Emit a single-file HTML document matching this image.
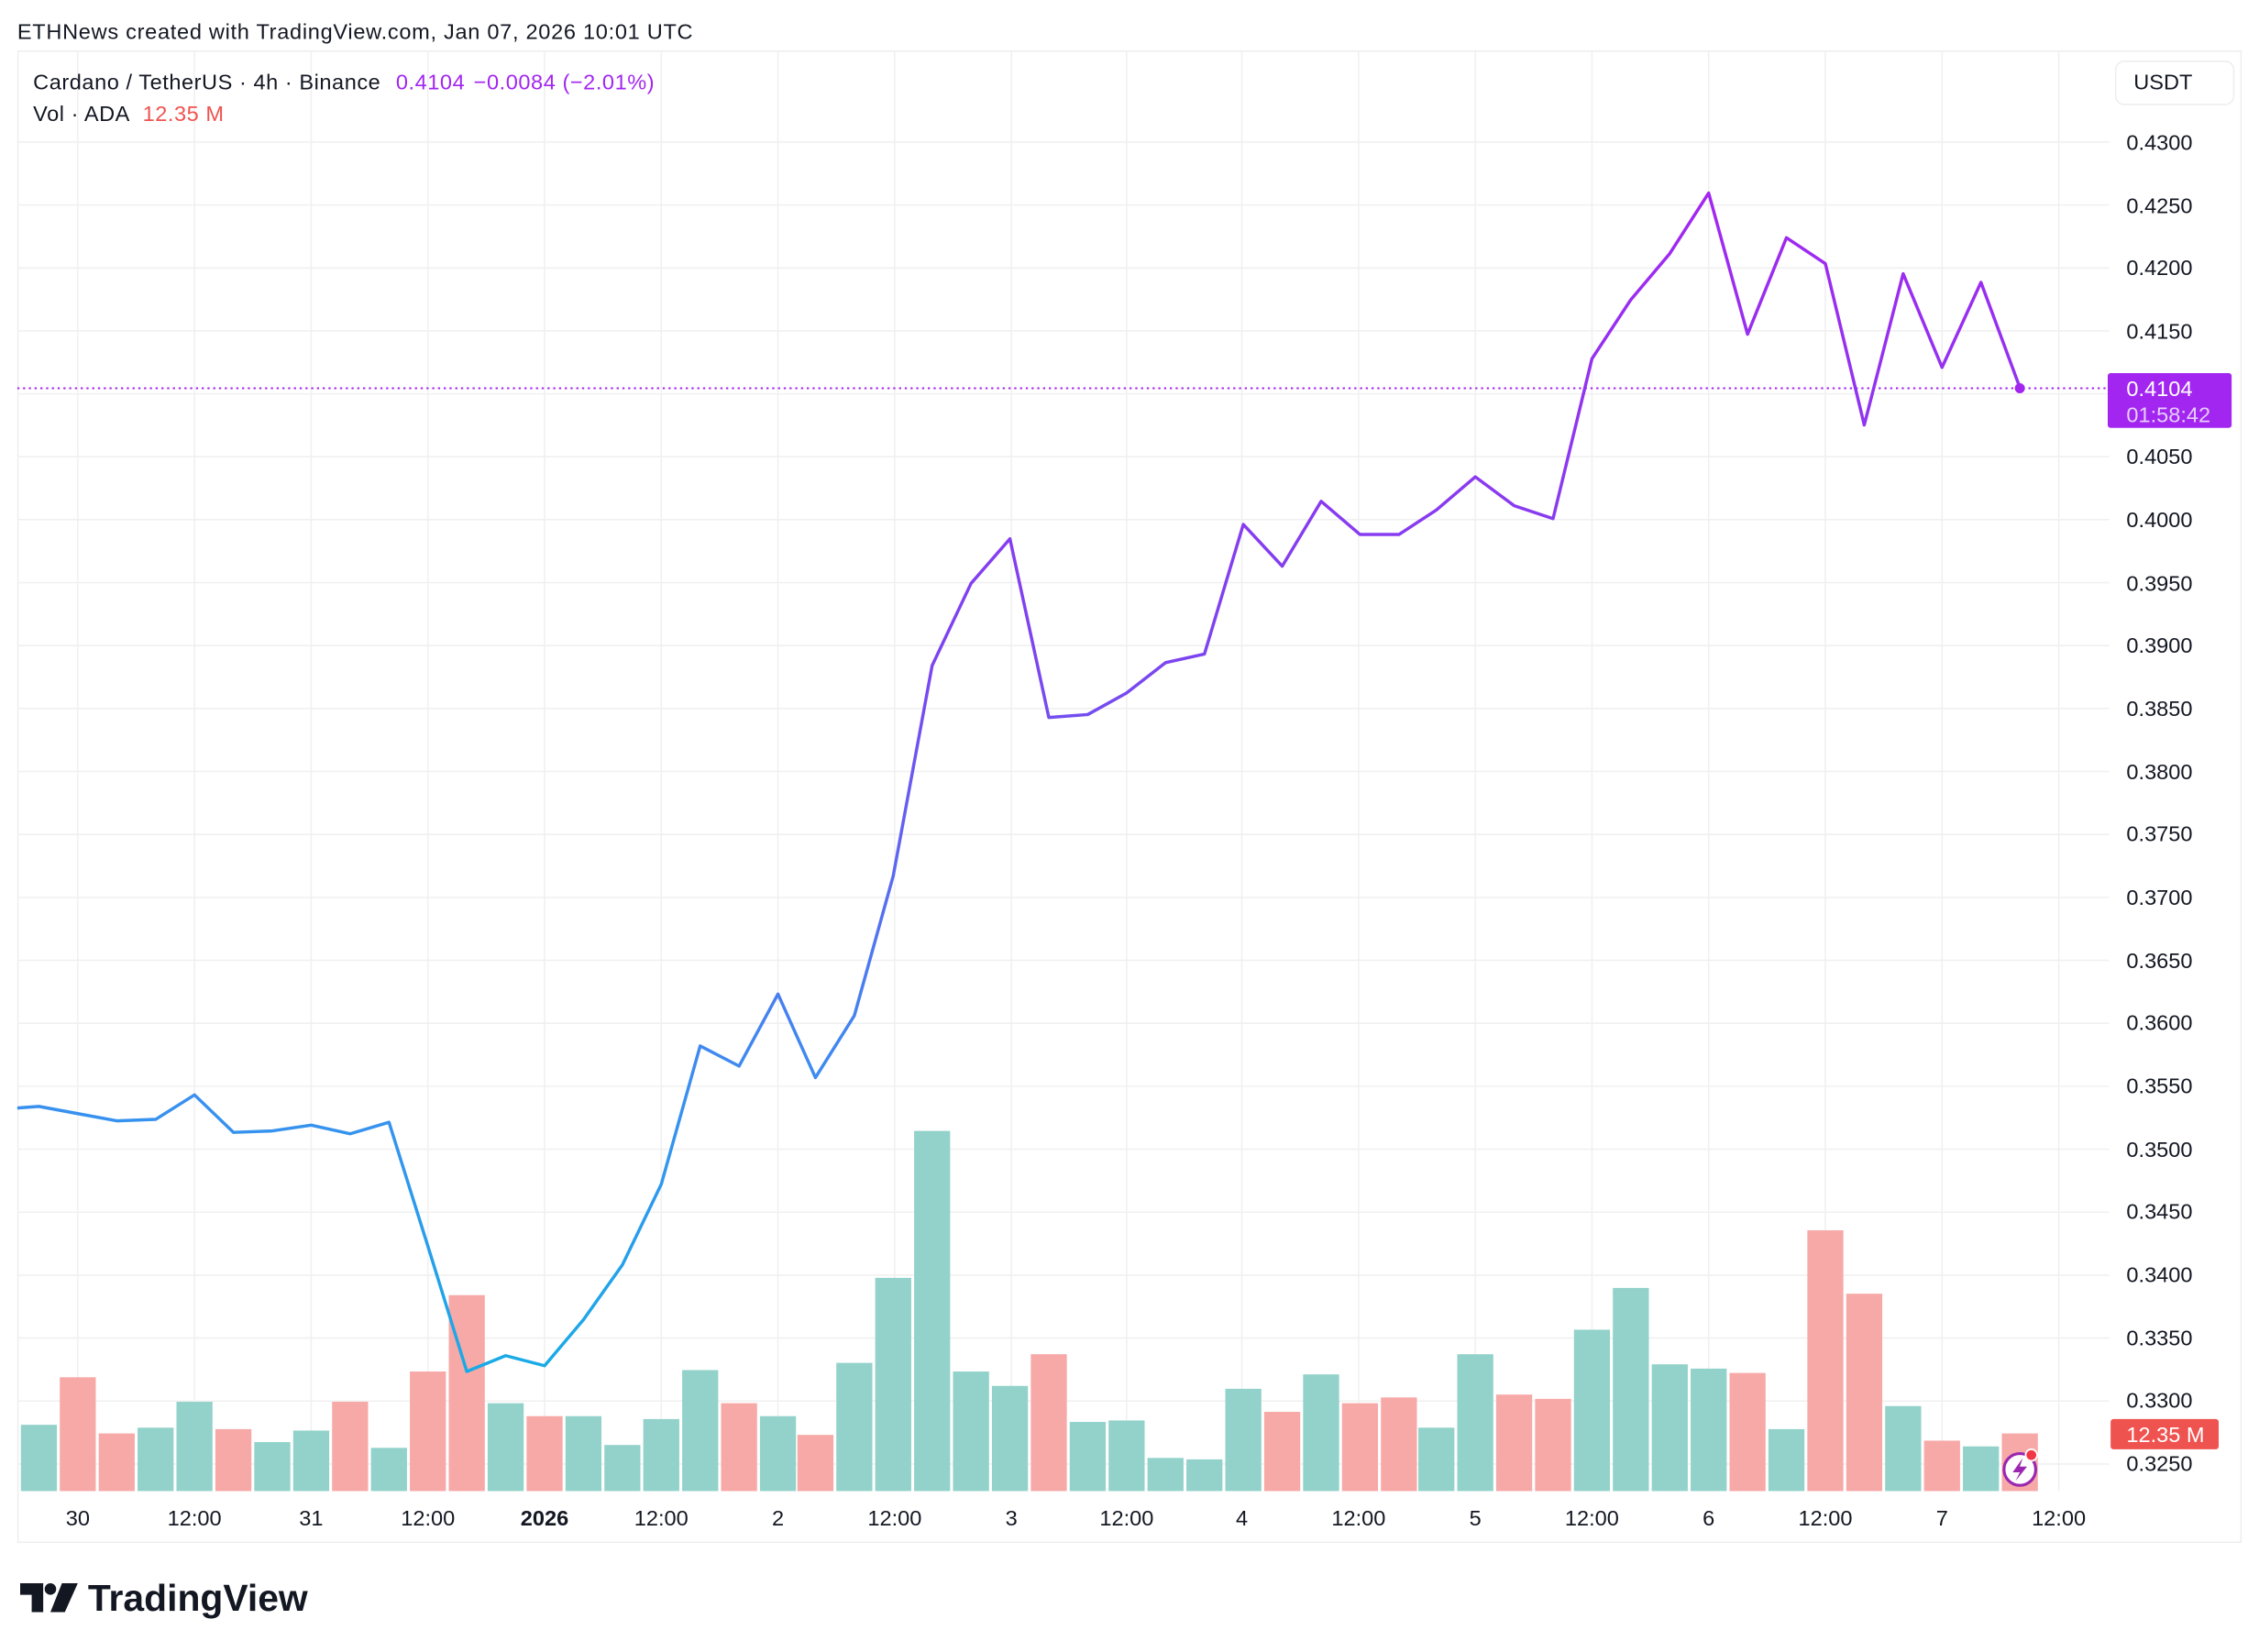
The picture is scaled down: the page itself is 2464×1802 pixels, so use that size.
<!DOCTYPE html>
<html><head><meta charset="utf-8"><style>
html,body{margin:0;padding:0;background:#fff;}
svg{display:block;}
text{font-family:"Liberation Sans",sans-serif;}
</style></head><body>
<svg width="2464" height="1802" viewBox="0 0 1568 1146.7" preserveAspectRatio="none" xmlns="http://www.w3.org/2000/svg">
<defs>
<linearGradient id="lg" gradientUnits="userSpaceOnUse" x1="0" y1="960" x2="0" y2="130">
<stop offset="0" stop-color="#17ace6"/>
<stop offset="0.25" stop-color="#3b8ef0"/>
<stop offset="0.6" stop-color="#7b45f0"/>
<stop offset="1" stop-color="#a326f0"/>
</linearGradient>
<clipPath id="pc"><rect x="12" y="35" width="1452" height="1000"/></clipPath>
</defs>
<rect width="1568" height="1147" fill="#fff"/>
<text x="12" y="27" font-size="15" fill="#131722" letter-spacing="0.45">ETHNews created with TradingView.com, Jan 07, 2026 10:01 UTC</text>
<rect x="12.5" y="35.5" width="1543" height="1035" fill="none" stroke="#eeeeee"/>
<g stroke="#f0f0f0" stroke-width="1">
<line x1="54" y1="35" x2="54" y2="1035"/><line x1="135" y1="35" x2="135" y2="1035"/><line x1="216" y1="35" x2="216" y2="1035"/><line x1="297" y1="35" x2="297" y2="1035"/><line x1="378" y1="35" x2="378" y2="1035"/><line x1="459" y1="35" x2="459" y2="1035"/><line x1="540" y1="35" x2="540" y2="1035"/><line x1="621" y1="35" x2="621" y2="1035"/><line x1="702" y1="35" x2="702" y2="1035"/><line x1="782" y1="35" x2="782" y2="1035"/><line x1="862" y1="35" x2="862" y2="1035"/><line x1="943" y1="35" x2="943" y2="1035"/><line x1="1024" y1="35" x2="1024" y2="1035"/><line x1="1105" y1="35" x2="1105" y2="1035"/><line x1="1186" y1="35" x2="1186" y2="1035"/><line x1="1267" y1="35" x2="1267" y2="1035"/><line x1="1348" y1="35" x2="1348" y2="1035"/><line x1="1429" y1="35" x2="1429" y2="1035"/>
<line x1="12" y1="98.6" x2="1464" y2="98.6"/><line x1="12" y1="142.3" x2="1464" y2="142.3"/><line x1="12" y1="186" x2="1464" y2="186"/><line x1="12" y1="229.7" x2="1464" y2="229.7"/><line x1="12" y1="273.4" x2="1464" y2="273.4"/><line x1="12" y1="317" x2="1464" y2="317"/><line x1="12" y1="360.7" x2="1464" y2="360.7"/><line x1="12" y1="404.4" x2="1464" y2="404.4"/><line x1="12" y1="448.1" x2="1464" y2="448.1"/><line x1="12" y1="491.8" x2="1464" y2="491.8"/><line x1="12" y1="535.5" x2="1464" y2="535.5"/><line x1="12" y1="579.2" x2="1464" y2="579.2"/><line x1="12" y1="622.9" x2="1464" y2="622.9"/><line x1="12" y1="666.6" x2="1464" y2="666.6"/><line x1="12" y1="710.3" x2="1464" y2="710.3"/><line x1="12" y1="754" x2="1464" y2="754"/><line x1="12" y1="797.7" x2="1464" y2="797.7"/><line x1="12" y1="841.4" x2="1464" y2="841.4"/><line x1="12" y1="885.1" x2="1464" y2="885.1"/><line x1="12" y1="928.8" x2="1464" y2="928.8"/><line x1="12" y1="972.5" x2="1464" y2="972.5"/><line x1="12" y1="1016.2" x2="1464" y2="1016.2"/>
</g>
<g clip-path="url(#pc)">
<g fill="#92d2ca">
<rect x="0" y="1020" width="12" height="15" fill="#f7a9a7"/>
<rect x="14.5" y="989" width="25" height="46"/>
<rect x="95.5" y="991" width="25" height="44"/>
<rect x="122.5" y="973" width="25" height="62"/>
<rect x="176.5" y="1001" width="25" height="34"/>
<rect x="203.5" y="993" width="25" height="42"/>
<rect x="257.5" y="1005" width="25" height="30"/>
<rect x="338.5" y="974" width="25" height="61"/>
<rect x="392.5" y="983" width="25" height="52"/>
<rect x="419.5" y="1003" width="25" height="32"/>
<rect x="446.5" y="985" width="25" height="50"/>
<rect x="473.5" y="951" width="25" height="84"/>
<rect x="527.5" y="983" width="25" height="52"/>
<rect x="580.5" y="946" width="25" height="89"/>
<rect x="607.5" y="887" width="25" height="148"/>
<rect x="634.5" y="785" width="25" height="250"/>
<rect x="661.5" y="952" width="25" height="83"/>
<rect x="688.5" y="962" width="25" height="73"/>
<rect x="742.5" y="987" width="25" height="48"/>
<rect x="769.5" y="986" width="25" height="49"/>
<rect x="796.5" y="1012" width="25" height="23"/>
<rect x="823.5" y="1013" width="25" height="22"/>
<rect x="850.5" y="964" width="25" height="71"/>
<rect x="904.5" y="954" width="25" height="81"/>
<rect x="984.5" y="991" width="25" height="44"/>
<rect x="1011.5" y="940" width="25" height="95"/>
<rect x="1092.5" y="923" width="25" height="112"/>
<rect x="1119.5" y="894" width="25" height="141"/>
<rect x="1146.5" y="947" width="25" height="88"/>
<rect x="1173.5" y="950" width="25" height="85"/>
<rect x="1227.5" y="992" width="25" height="43"/>
<rect x="1308.5" y="976" width="25" height="59"/>
<rect x="1362.5" y="1004" width="25" height="31"/>
</g>
<g fill="#f7a9a7">
<rect x="41.5" y="956" width="25" height="79"/>
<rect x="68.5" y="995" width="25" height="40"/>
<rect x="149.5" y="992" width="25" height="43"/>
<rect x="230.5" y="973" width="25" height="62"/>
<rect x="284.5" y="952" width="25" height="83"/>
<rect x="311.5" y="899" width="25" height="136"/>
<rect x="365.5" y="983" width="25" height="52"/>
<rect x="500.5" y="974" width="25" height="61"/>
<rect x="553.5" y="996" width="25" height="39"/>
<rect x="715.5" y="940" width="25" height="95"/>
<rect x="877.5" y="980" width="25" height="55"/>
<rect x="931.5" y="974" width="25" height="61"/>
<rect x="958.5" y="970" width="25" height="65"/>
<rect x="1038.5" y="968" width="25" height="67"/>
<rect x="1065.5" y="971" width="25" height="64"/>
<rect x="1200.5" y="953" width="25" height="82"/>
<rect x="1254.5" y="854" width="25" height="181"/>
<rect x="1281.5" y="898" width="25" height="137"/>
<rect x="1335.5" y="1000" width="25" height="35"/>
<rect x="1389.5" y="995" width="25" height="40"/>
</g>
<line x1="12" y1="269.5" x2="1464" y2="269.5" stroke="#a326f0" stroke-width="1.3" stroke-dasharray="1.5,2.5"/>
<polyline fill="none" stroke="url(#lg)" stroke-width="2.2" stroke-linejoin="round" points="0,770 27,768 54,773 81,778 108,777 135,760 162,786 189,785 216,781 243,787 270,779 297,865 324,952 351,941 378,948 405,916 432,878 459,822 486,726 513,740 540,690 566,748 593,705 620,608 647,462 674,405 701,374 728,498 755,496 782,481 809,460 836,454 863,364 890,393 917,348 944,371 971,371 997,354 1024,331 1051,351 1078,360 1105,249 1132,208 1159,176 1186,134 1213,232 1240,165 1267,183 1294,295 1321,190 1348,255 1375,196 1402,269"/>
<circle cx="1402" cy="269.5" r="3.5" fill="#a326f0"/>
</g>
<circle cx="1402" cy="1020" r="11" fill="#fff" stroke="#9b27b0" stroke-width="2"/>
<path d="M1404,1012 L1397,1022 L1402,1022 L1399,1028 L1407,1018 L1402,1018 Z" fill="#9b27b0"/>
<circle cx="1410" cy="1010" r="4" fill="#f23645" stroke="#fff" stroke-width="1.2"/>
<text x="23" y="62" font-size="15" fill="#131722" letter-spacing="0.35">Cardano / TetherUS · 4h · Binance <tspan fill="#a326f0" dx="6">0.4104</tspan><tspan fill="#a326f0" dx="6">−0.0084 (−2.01%)</tspan></text>
<text x="23" y="84" font-size="15" fill="#131722" letter-spacing="0.35">Vol · ADA <tspan fill="#ef5350" dx="5">12.35 M</tspan></text>
<rect x="1468.5" y="42.5" width="82" height="30" rx="6" fill="#fff" stroke="#eeeeee"/>
<text x="1481" y="62" font-size="15" fill="#131722">USDT</text>
<g font-size="15" fill="#131722">
<text x="1476" y="104">0.4300</text><text x="1476" y="148">0.4250</text><text x="1476" y="191">0.4200</text><text x="1476" y="235">0.4150</text><text x="1476" y="322">0.4050</text><text x="1476" y="366">0.4000</text><text x="1476" y="410">0.3950</text><text x="1476" y="453">0.3900</text><text x="1476" y="497">0.3850</text><text x="1476" y="541">0.3800</text><text x="1476" y="584">0.3750</text><text x="1476" y="628">0.3700</text><text x="1476" y="672">0.3650</text><text x="1476" y="715">0.3600</text><text x="1476" y="759">0.3550</text><text x="1476" y="803">0.3500</text><text x="1476" y="846">0.3450</text><text x="1476" y="890">0.3400</text><text x="1476" y="934">0.3350</text><text x="1476" y="977">0.3300</text><text x="1476" y="1021">0.3250</text>
</g>
<rect x="1463" y="259" width="86" height="38" rx="2" fill="#a326f0"/>
<text x="1476" y="275" font-size="15" fill="#fff">0.4104</text>
<text x="1476" y="293" font-size="15" fill="#e6cdfb">01:58:42</text>
<rect x="1465" y="985" width="75" height="21" rx="2" fill="#ef5350"/>
<text x="1476" y="1001" font-size="15" fill="#fff">12.35 M</text>
<g font-size="15" fill="#131722" text-anchor="middle">
<text x="54" y="1059">30</text><text x="135" y="1059">12:00</text><text x="216" y="1059">31</text><text x="297" y="1059">12:00</text><text x="378" y="1059" font-weight="bold">2026</text><text x="459" y="1059">12:00</text><text x="540" y="1059">2</text><text x="621" y="1059">12:00</text><text x="702" y="1059">3</text><text x="782" y="1059">12:00</text><text x="862" y="1059">4</text><text x="943" y="1059">12:00</text><text x="1024" y="1059">5</text><text x="1105" y="1059">12:00</text><text x="1186" y="1059">6</text><text x="1267" y="1059">12:00</text><text x="1348" y="1059">7</text><text x="1429" y="1059">12:00</text>
</g>
<g fill="#131722">
<path d="M14,1099 H30 V1119 H22 V1107 H14 Z"/>
<circle cx="35" cy="1103" r="4"/>
<path d="M43,1099 H54 L45,1119 H35 Z"/>
</g>
<text x="61" y="1118" font-size="26" font-weight="bold" fill="#131722">TradingView</text>
</svg>
</body></html>
